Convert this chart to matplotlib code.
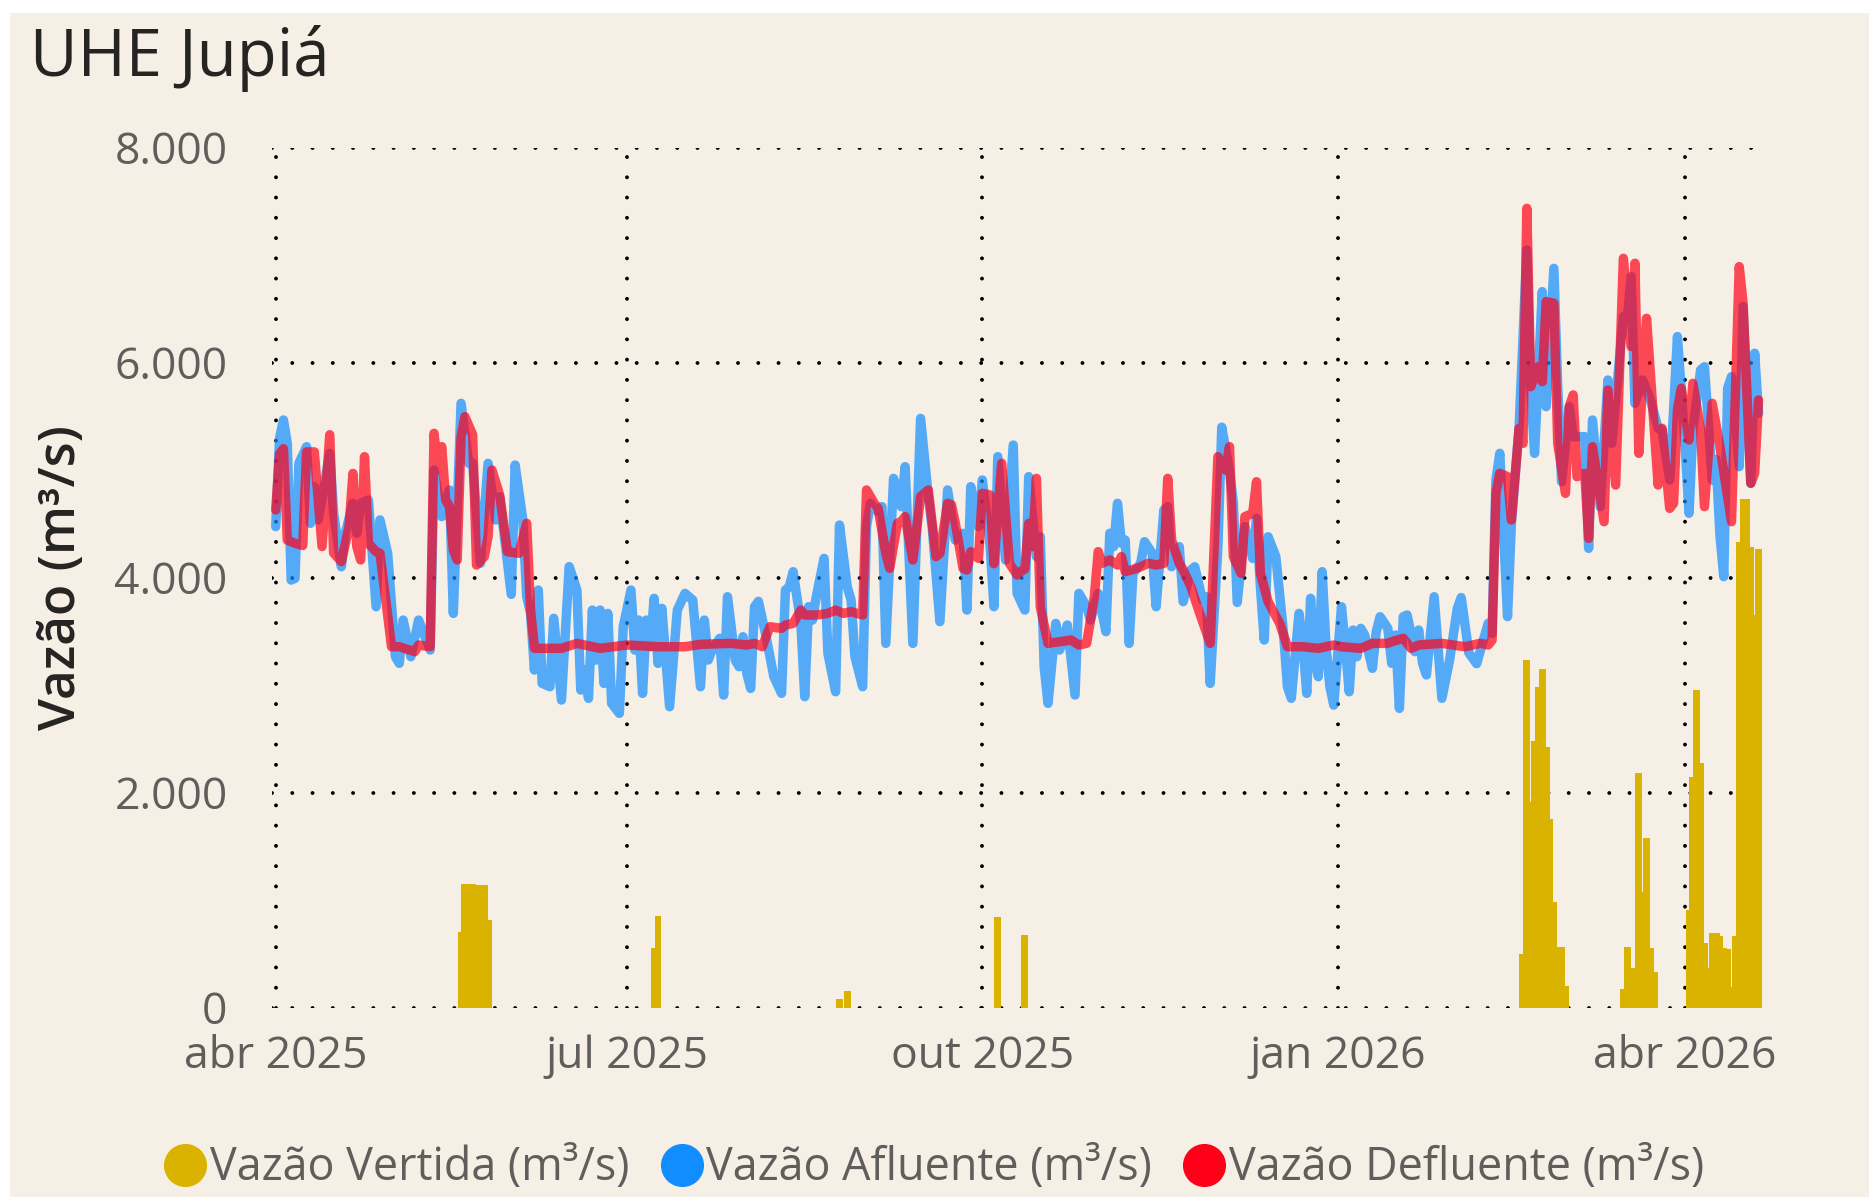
import numpy as np
import matplotlib
matplotlib.use('Agg')
import matplotlib.pyplot as plt
import matplotlib.dates as mdates
from matplotlib.lines import Line2D
from matplotlib.patches import Rectangle

# dias contados a partir de 01/04/2025
inicio = np.datetime64('2025-04-01')

aflu_dia = [0, 1, 2, 3, 4, 5, 6, 8, 9, 10, 11, 14, 15, 17, 18, 20, 21, 22, 24, 26, 27, 29, 31, 32, 33, 35, 37,
            40, 41, 42, 43, 45, 46, 48, 50, 51, 53, 55, 57, 58, 61, 62, 64, 65, 66, 67, 68, 69, 71, 72, 74, 76,
            78, 79, 80, 81, 82, 83, 84, 85, 86, 87, 89, 90, 92, 93, 94, 95, 96, 97, 98, 99, 100, 102, 104, 106,
            108, 110, 111, 112, 113, 115, 116, 117, 119, 120, 121, 122, 123, 124, 125, 127, 129, 131, 132, 133,
            134, 136, 137, 138, 139, 140, 142, 143, 145, 146, 148, 149, 150, 152, 153, 154, 156, 157, 158, 160,
            162, 163, 165, 167, 169, 170, 172, 174, 176, 178, 179, 180, 182, 183, 185, 186, 187, 189, 191, 192,
            194, 195, 197, 198, 199, 200, 202, 203, 205, 207, 208, 210, 211, 213, 215, 216, 217, 218, 219, 220,
            221, 222, 224, 225, 227, 228, 230, 231, 232, 234, 235, 237, 238, 240, 241, 242, 244, 245, 247, 248,
            249, 251, 253, 254, 255, 256, 257, 259, 261, 262, 263, 265, 266, 267, 268, 269, 270, 271, 272, 273,
            274, 276, 277, 278, 279, 280, 281, 282, 284, 285, 286, 288, 289, 290, 291, 292, 293, 295, 296, 297,
            298, 300, 302, 304, 306, 307, 309, 311, 314, 315, 316, 317, 319, 320, 322, 324, 325, 326, 328, 329,
            331, 332, 333, 335, 336, 339, 340, 341, 343, 345, 346, 349, 350, 351, 352, 354, 356, 358, 359, 361,
            362, 363, 365, 366, 367, 369, 370, 372, 373, 374, 375, 376, 377, 379, 380, 382, 383, 384]
aflu_val = [4475, 5300, 5467, 5250, 3978, 3994, 5064, 5219, 4506, 4847, 4537, 5157, 4599, 4102, 4413, 4692, 4413,
            4692, 4723, 3730, 4537, 4227, 3265, 3203, 3606, 3265, 3606, 3327, 5002, 4785, 4568, 4816, 3668, 5622,
            5064, 5064, 4134, 5064, 4537, 4754, 3845, 5048, 4537, 3823, 3668, 3141, 3885, 3017, 2986, 3622, 2862,
            4103, 3885, 2955, 3141, 2878, 3699, 3234, 3699, 3017, 3668, 2831, 2738, 3544, 3885, 3327, 3606, 2924,
            3606, 3358, 3808, 3203, 3715, 2800, 3699, 3854, 3792, 2986, 3606, 3234, 3327, 3436, 2908, 3823, 3234,
            3172, 3451, 3110, 2970, 3730, 3780, 3451, 3079, 2924, 3885, 3916, 4056, 3575, 2893, 3730, 3606, 3823,
            4180, 3296, 2939, 4490, 3916, 3792, 3265, 2986, 4475, 4692, 4614, 4661, 3389, 4924, 4661, 5033, 3389,
            5482, 4754, 4475, 3591, 4816, 4350, 4413, 3699, 4847, 4475, 4909, 4300, 3730, 5126, 4165, 5234, 3854,
            3699, 4940, 4196, 4381, 3172, 2831, 3575, 3327, 3560, 2908, 3854, 3730, 3606, 3854, 3498, 4413, 4289,
            4692, 4320, 4350, 3389, 4040, 4134, 4335, 4227, 3730, 4630, 4661, 4102, 4289, 3777, 4072, 4102, 3792,
            3823, 3017, 4289, 5400, 4990, 4700, 3770, 4475, 4180, 4552, 3916, 3420, 4381, 4196, 3482, 2986, 2878,
            3668, 3389, 2924, 3808, 3234, 3079, 4056, 3358, 2986, 2815, 3730, 3358, 2939, 3513, 3265, 3529, 3467,
            3157, 3498, 3637, 3529, 3203, 3467, 2784, 3637, 3653, 3312, 3513, 3203, 3095, 3823, 2878, 3234, 3715,
            3815, 3300, 3200, 3576, 3483, 4909, 5157, 3638, 4506, 5405, 7049, 5777, 5157, 6661, 5591, 6878, 5777,
            4893, 5591, 5312, 5312, 4273, 5467, 4661, 5839, 5250, 6429, 6398, 6801, 5622, 5839, 5653, 5390, 5374,
            4909, 5560, 6243, 5219, 4599, 5374, 5932, 5963, 4909, 5100, 4400, 4010, 5762, 5870, 5033, 6522, 4878,
            6088, 5529]

defl_dia = [0, 1, 2, 3, 5, 7, 8, 10, 12, 14, 15, 17, 19, 20, 21, 22, 23, 24, 26, 27, 30, 32, 36, 37, 40, 41, 42,
            43, 44, 45, 46, 47, 48, 49, 51, 52, 54, 55, 56, 58, 60, 63, 65, 66, 67, 74, 78, 84, 91, 99, 106, 110,
            118, 122, 124, 126, 128, 131, 132, 134, 136, 137, 140, 143, 145, 147, 149, 152, 153, 155, 156, 158,
            159, 161, 162, 163, 165, 167, 169, 171, 172, 174, 175, 176, 178, 179, 180, 182, 183, 185, 186, 188,
            190, 192, 193, 194, 195, 196, 197, 198, 200, 203, 206, 208, 210, 212, 213, 214, 216, 218, 219, 220,
            223, 226, 228, 230, 231, 232, 234, 235, 237, 239, 242, 244, 246, 247, 248, 250, 251, 253, 254, 255,
            257, 260, 262, 266, 270, 274, 276, 281, 284, 288, 289, 292, 294, 296, 302, 308, 312, 314, 315, 316,
            317, 319, 320, 322, 323, 324, 325, 327, 328, 329, 331, 332, 334, 335, 336, 337, 339, 340, 341, 344,
            345, 347, 349, 351, 352, 353, 354, 355, 358, 359, 361, 362, 363, 364, 366, 367, 369, 370, 372, 374,
            377, 379, 380, 382, 383, 384]
defl_val = [4630, 5150, 5200, 4350, 4320, 4300, 5170, 5170, 4290, 5330, 4230, 4150, 4475, 4970, 4290, 4165, 5126,
            4320, 4242, 4227, 3358, 3358, 3312, 3374, 3358, 5343, 5002, 5219, 4723, 4661, 4258, 4165, 5312, 5498,
            5330, 4118, 4196, 4381, 5002, 4769, 4242, 4227, 4506, 3699, 3343, 3343, 3389, 3343, 3374, 3358, 3358,
            3380, 3389, 3374, 3389, 3358, 3544, 3529, 3560, 3575, 3699, 3653, 3653, 3668, 3699, 3668, 3684, 3653,
            4816, 4692, 4645, 4227, 4087, 4506, 4521, 4568, 4165, 4754, 4816, 4196, 4227, 4692, 4677, 4506, 4087,
            4072, 4242, 4180, 4785, 4769, 4130, 5064, 4134, 4025, 4060, 4080, 4506, 4289, 4924, 3730, 3389, 3405,
            3420, 3374, 3389, 3823, 4242, 4134, 4165, 4118, 4196, 4056, 4087, 4134, 4118, 4134, 4924, 4350, 4134,
            4072, 3916, 3699, 3389, 5126, 5002, 5219, 4196, 4040, 4568, 4599, 4893, 4040, 3777, 3575, 3358, 3358,
            3343, 3374, 3358, 3343, 3389, 3389, 3405, 3436, 3343, 3374, 3389, 3358, 3390, 3374, 3420, 4785, 4971,
            4940, 4537, 5390, 5250, 7436, 5777, 5963, 5824, 6568, 6553, 5250, 4785, 5591, 5700, 4940, 4971, 4366,
            5219, 4521, 5746, 4862, 6971, 6150, 6925, 5157, 5870, 6413, 4862, 5390, 4645, 4692, 5560, 5762, 5281,
            5808, 5374, 4661, 5622, 5219, 4521, 6894, 6553, 4878, 4971, 5653]

vert_dia = [48, 49, 50, 51, 52, 53, 54, 55, 98, 99, 146, 148, 187, 194,
            323, 324, 325, 326, 327, 328, 329, 330, 331, 332, 333, 334,
            349, 350, 351, 352, 353, 354, 355, 356, 357,
            366, 367, 368, 369, 370, 371, 372, 373, 374, 375, 376, 377, 378, 379, 380, 381, 382, 383, 384]
vert_val = [700, 1150, 1150, 1150, 1142, 1142, 1142, 817, 552, 856, 81, 158, 847, 679,
            499, 3234, 1910, 2484, 2986, 3153, 2428, 1755, 986, 561, 561, 201,
            173, 567, 220, 366, 2186, 1079, 1581, 558, 334,
            912, 2150, 2952, 2273, 603, 372, 698, 698, 666, 559, 549, 196, 669, 4328, 4729, 4729, 4284, 3650, 4265]

yticks = [0, 2000, 4000, 6000, 8000]
ytick_labels = ['0', '2.000', '4.000', '6.000', '8.000']
xticks = ['2025-04-01', '2025-07-01', '2025-10-01', '2026-01-01', '2026-04-01']
xtick_labels = ['abr 2025', 'jul 2025', 'out 2025', 'jan 2026', 'abr 2026']
series_names = ['Vazão Vertida (m³/s)', 'Vazão Afluente (m³/s)', 'Vazão Defluente (m³/s)']

def to_dates(days):
    return inicio + np.array(days).astype('timedelta64[D]')

plt.rcParams['font.family'] = ['Open Sans', 'DejaVu Sans']

fig = plt.figure(figsize=(18.69, 11.97), dpi=100)
fig.patch.set_facecolor('white')
fig.patches.append(Rectangle((10 / 1869, 0), 1, 1 - 13 / 1197, transform=fig.transFigure,
                             facecolor='#F6EFE5', edgecolor='none', zorder=-10))

ax = fig.add_axes([272 / 1869, 1 - 1007.7 / 1197, 1490 / 1869, 860 / 1197])
ax.patch.set_alpha(0)

ax.bar(to_dates(vert_dia), vert_val, width=1.8, color='#D9B300', zorder=2)
ax.plot(to_dates(aflu_dia), aflu_val, color='#118DFF', alpha=0.7, lw=6.8,
        solid_joinstyle='round', solid_capstyle='round', zorder=3, clip_on=False)
ax.plot(to_dates(defl_dia), defl_val, color='#FF0018', alpha=0.7, lw=6.8,
        solid_joinstyle='round', solid_capstyle='round', zorder=4, clip_on=False)

base = mdates.date2num(inicio)
ax.set_xlim(base - 0.96, base + 384.9)
ax.set_ylim(0, 8000)
ax.set_yticks(yticks)
ax.set_yticklabels(ytick_labels)
ax.set_xticks([mdates.date2num(np.datetime64(d)) for d in xticks])
ax.set_xticklabels(xtick_labels)

for s in ax.spines.values():
    s.set_visible(False)
ax.set_axisbelow(True)
ax.grid(True, color='black', linestyle=(0, (0.01, 5.2)), linewidth=2.8, dash_capstyle='round')
ax.tick_params(axis='both', length=0, labelsize=32, labelcolor='#605E5C')
ax.tick_params(axis='y', pad=32)
ax.tick_params(axis='x', pad=19)

fig.text(30 / 1869, 1 - 58 / 1197, 'UHE Jupiá', fontsize=47, color='#252423', ha='left', va='center')
fig.text(62 / 1869, 1 - 578 / 1197, 'Vazão (m³/s)', fontsize=37, color='#252423', fontweight='semibold',
         rotation=90, ha='center', va='center')

handles = [Line2D([], [], marker='o', linestyle='none', markersize=30, color=c)
           for c in ['#D9B300', '#118DFF', '#FF0018']]
leg = fig.legend(handles, series_names, loc='center', bbox_to_anchor=(0.5, 0.024), ncol=3, frameon=False,
                 fontsize=32.3, handlelength=0.9, handletextpad=0.1, columnspacing=0.72, borderaxespad=0)
for t in leg.get_texts():
    t.set_color('#605E5C')

plt.savefig('out.png', dpi=100)
